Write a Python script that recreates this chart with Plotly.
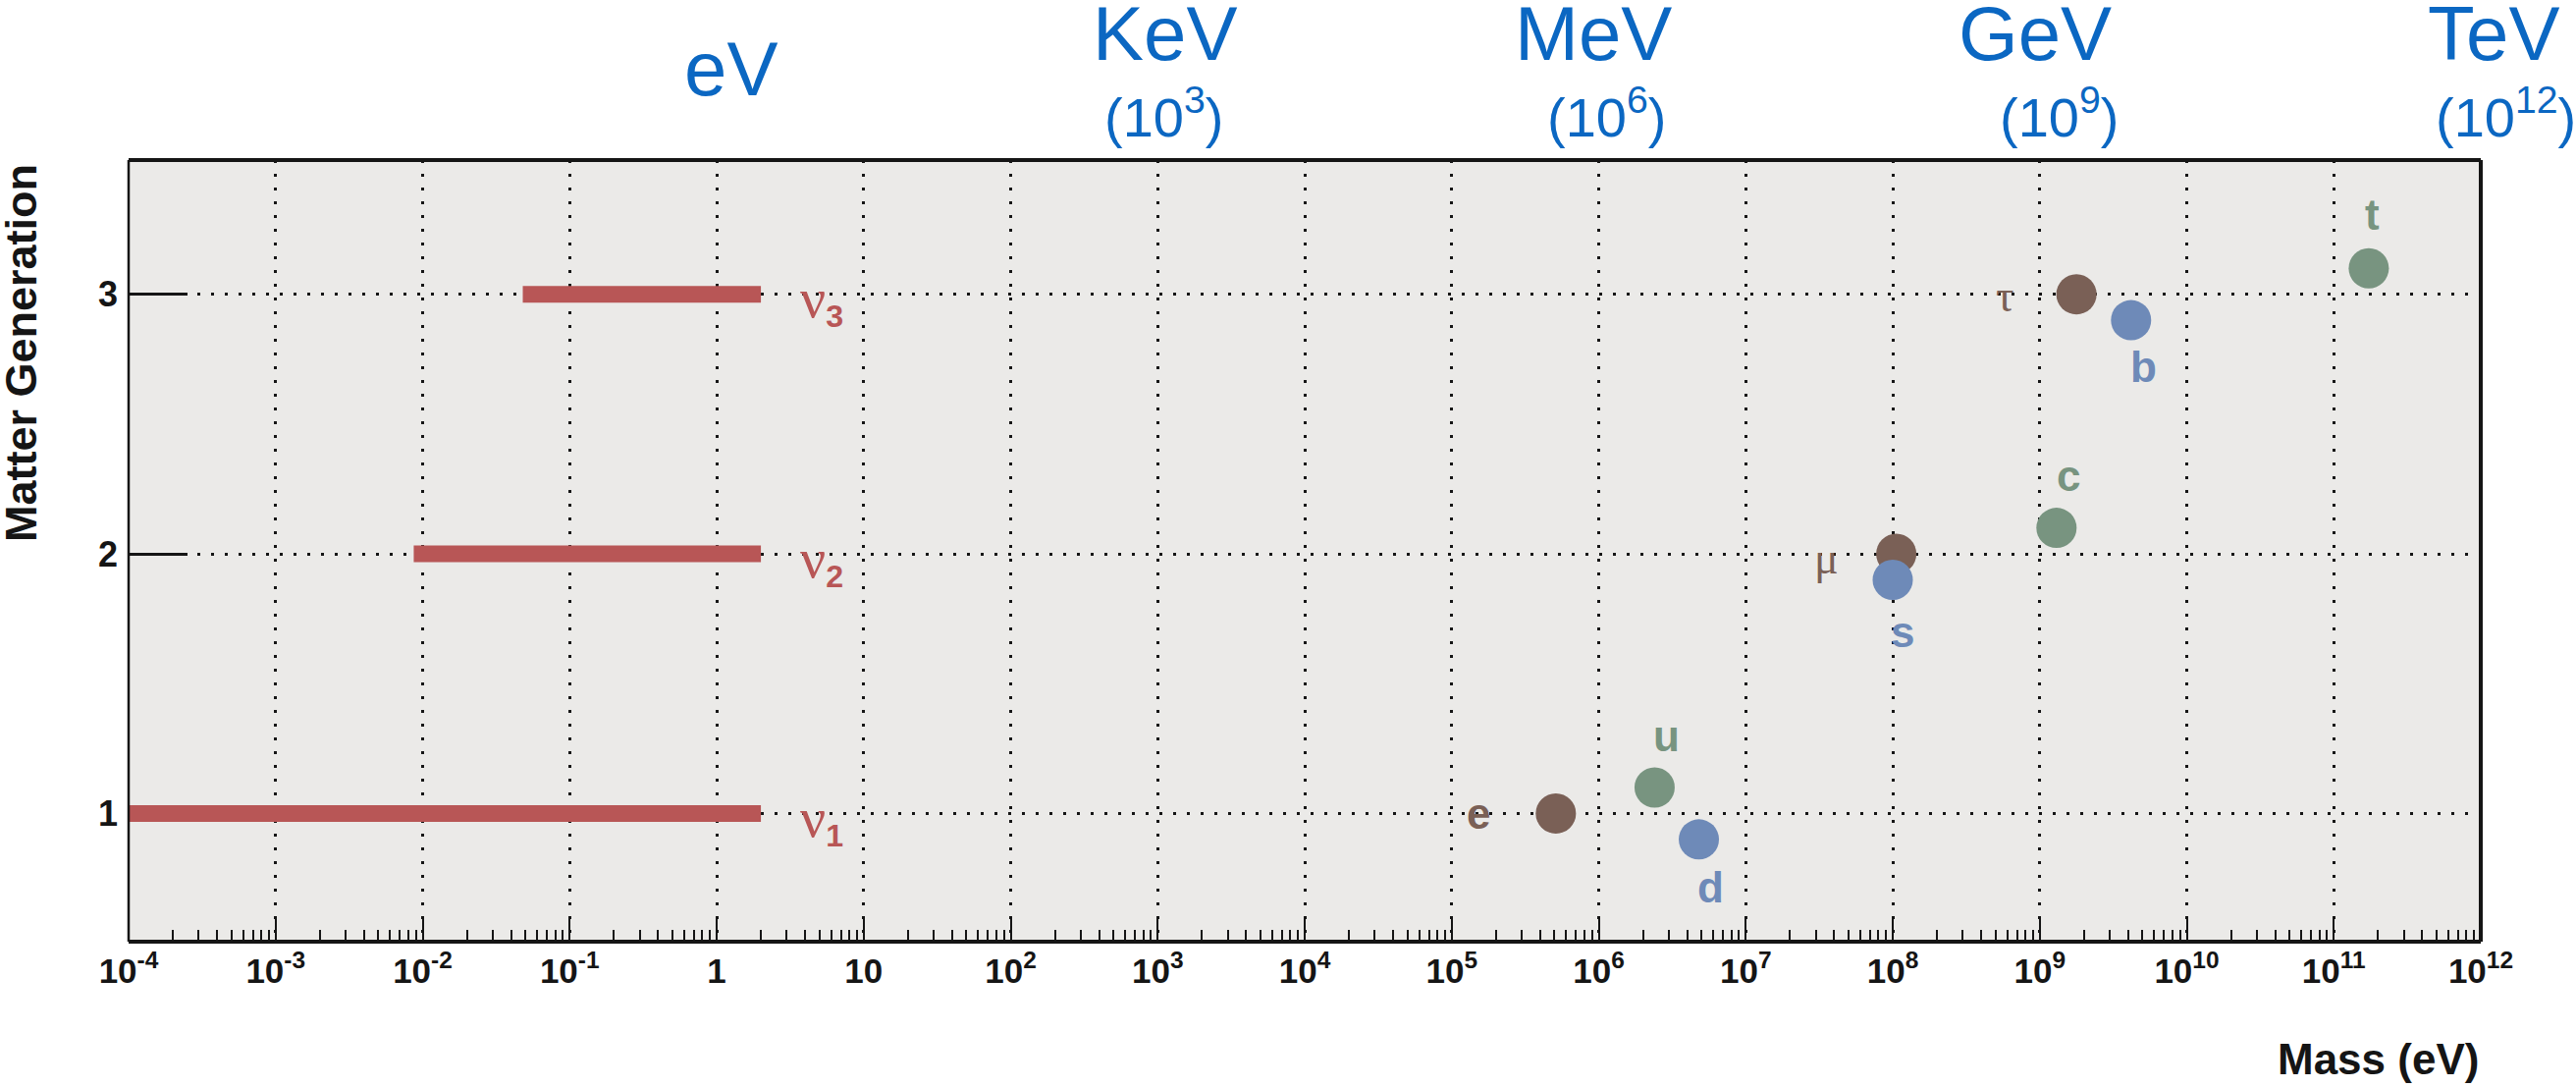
import numpy as np
import plotly.graph_objects as go

# ---- data ----------------------------------------------------------------
# mass axis decades (eV) and their labels
decade_exps = list(range(-4, 13))
decade_labels = ["10<sup>-4</sup>", "10<sup>-3</sup>", "10<sup>-2</sup>", "10<sup>-1</sup>",
                 "1", "10", "10<sup>2</sup>", "10<sup>3</sup>", "10<sup>4</sup>",
                 "10<sup>5</sup>", "10<sup>6</sup>", "10<sup>7</sup>", "10<sup>8</sup>",
                 "10<sup>9</sup>", "10<sup>10</sup>", "10<sup>11</sup>", "10<sup>12</sup>"]

generations = [1, 2, 3]
generation_labels = ["1", "2", "3"]

# neutrino mass ranges (eV)
nu_names = ["1", "2", "3"]
nu_low = [1e-4, 0.0087, 0.048]
nu_high = [2.0, 2.0, 2.0]
nu_gen = [1, 2, 3]

# charged leptons (eV)
lepton_names = ["e", "μ", "τ"]
lepton_mass = [5.11e5, 1.057e8, 1.777e9]
lepton_gen = [1, 2, 3]

# up-type quarks (eV)
up_names = ["u", "c", "t"]
up_mass = [2.4e6, 1.3e9, 1.73e11]
up_gen = [1.1, 2.1, 3.1]

# down-type quarks (eV)
down_names = ["d", "s", "b"]
down_mass = [4.8e6, 1.0e8, 4.18e9]
down_gen = [0.9, 1.9, 2.9]

# energy unit scale along the top
unit_names = ["eV", "KeV", "MeV", "GeV", "TeV"]
unit_exps = [0, 3, 6, 9, 12]

# ---- styling -------------------------------------------------------------
W, H = 2624, 1107
ML, MR, MT, MB = 131, 97, 163, 148
PW, PH = W - ML - MR, H - MT - MB

NU_COLOR = "#B85656"
LEPTON_COLOR = "#7A6056"
UP_COLOR = "#789480"
DOWN_COLOR = "#6E8AB8"
UNIT_COLOR = "#0B67C2"
INK = "#151515"
SANS = "Liberation Sans, Arial, sans-serif"
SERIF = "Liberation Serif, Times New Roman, serif"


def py(px):
    """paper y for a pixel row of the page"""
    return (H - MB - px) / PH


def pxx(px):
    """paper x for a pixel column of the page"""
    return (px - ML) / PW


fig = go.Figure()

# neutrino mass bands
for lo, hi, g in zip(nu_low, nu_high, nu_gen):
    fig.add_trace(go.Scatter(
        x=[lo, hi], y=[g, g], mode="lines",
        line=dict(color=NU_COLOR, width=17),
        hoverinfo="skip", showlegend=False))

# massive fermions
for masses, gens, color in [(lepton_mass, lepton_gen, LEPTON_COLOR),
                            (up_mass, up_gen, UP_COLOR),
                            (down_mass, down_gen, DOWN_COLOR)]:
    fig.add_trace(go.Scatter(
        x=masses, y=gens, mode="markers",
        marker=dict(size=41, color=color, line=dict(width=0)),
        showlegend=False))

annotations = []

# neutrino labels
for name, hi, g in zip(nu_names, nu_high, nu_gen):
    annotations.append(dict(
        x=np.log10(hi), y=g, xref="x", yref="y",
        xanchor="left", yanchor="middle", xshift=38, yshift=-6,
        text=f'<span style="font-family:{SERIF};font-size:58px">ν</span>'
             f'<sub><b>{name}</b></sub>',
        showarrow=False, font=dict(family=SANS, size=46, color=NU_COLOR)))

# particle labels: (dx, dy) pixel offsets from each marker
lepton_off = [(-79, 0), (-71, -4), (-73, -2)]
up_off = [(12, 52), (12, 53), (4, 55)]
down_off = [(12, -49), (10, -53), (13, -47)]

for names, masses, gens, offs, color in [
        (lepton_names, lepton_mass, lepton_gen, lepton_off, LEPTON_COLOR),
        (up_names, up_mass, up_gen, up_off, UP_COLOR),
        (down_names, down_mass, down_gen, down_off, DOWN_COLOR)]:
    for n, m, g, (dx, dy) in zip(names, masses, gens, offs):
        greek = n in ("μ", "τ")
        annotations.append(dict(
            x=np.log10(m), y=g, xref="x", yref="y",
            xanchor="center", yanchor="middle", xshift=dx, yshift=dy,
            text=n if greek else f"<b>{n}</b>", showarrow=False,
            font=dict(family=SERIF if greek else SANS,
                      size=46 if greek else 44, color=color)))

# energy units along the top (horizontal nudges in pixels)
unit_shift = [14, 7, -6, -5, 13]
power_shift = [0, 6, 8, 20, 25]
for name, e, us, ps in zip(unit_names, unit_exps, unit_shift, power_shift):
    has_power = e != 0
    annotations.append(dict(
        x=e, y=py(34) if has_power else py(70), xref="x", yref="paper",
        xanchor="center", yanchor="middle", xshift=us,
        text=name, showarrow=False,
        font=dict(family=SANS, size=78, color=UNIT_COLOR)))
    if has_power:
        annotations.append(dict(
            x=e, y=py(116), xref="x", yref="paper",
            xanchor="center", yanchor="middle", xshift=ps,
            text=f"(10<sup>{e}</sup>)", showarrow=False,
            font=dict(family=SANS, size=56, color=UNIT_COLOR)))

# axis titles
annotations.append(dict(
    x=pxx(21), y=py(360), xref="paper", yref="paper",
    xanchor="center", yanchor="middle", textangle=-90,
    text="<b>Matter Generation</b>", showarrow=False,
    font=dict(family=SANS, size=45, color=INK)))
annotations.append(dict(
    x=1.0, y=py(1078), xref="paper", yref="paper",
    xanchor="right", yanchor="middle",
    text="<b>Mass (eV)</b>", showarrow=False,
    font=dict(family=SANS, size=44, color=INK)))

# frame around the plotting area
frame = [
    dict(type="line", xref="paper", yref="paper", x0=0, x1=1, y0=1, y1=1,
         line=dict(color=INK, width=4)),
    dict(type="line", xref="paper", yref="paper", x0=0, x1=1, y0=0, y1=0,
         line=dict(color=INK, width=4)),
    dict(type="line", xref="paper", yref="paper", x0=1, x1=1, y0=0, y1=1,
         line=dict(color=INK, width=4)),
    dict(type="line", xref="paper", yref="paper", x0=0, x1=0, y0=0, y1=1,
         line=dict(color=INK, width=2.5)),
]

minor_vals = [k * 10.0 ** e for e in decade_exps[:-1] for k in range(2, 10)]

fig.update_layout(
    width=W, height=H,
    margin=dict(l=ML, r=MR, t=MT, b=MB, pad=0),
    paper_bgcolor="white",
    plot_bgcolor="#EBEAE8",
    annotations=annotations,
    shapes=frame,
    showlegend=False,
    xaxis=dict(
        type="log", range=[-4, 12],
        tickmode="array",
        tickvals=[10.0 ** e for e in decade_exps],
        ticktext=decade_labels,
        ticks="inside", ticklen=25, tickwidth=2, tickcolor=INK,
        tickfont=dict(family=SANS, size=35, color=INK, weight="bold"),
        ticklabelstandoff=6,
        showgrid=True, gridcolor=INK, gridwidth=3, griddash="3px,11px",
        minor=dict(tickmode="array", tickvals=minor_vals, ticks="inside",
                   ticklen=12, tickwidth=2, tickcolor=INK, showgrid=False),
        showline=False, zeroline=False,
    ),
    yaxis=dict(
        range=[0.506, 3.517],
        tickmode="array", tickvals=generations, ticktext=generation_labels,
        ticks="inside", ticklen=60, tickwidth=3, tickcolor=INK,
        tickfont=dict(family=SANS, size=36, color=INK, weight="bold"),
        ticklabelstandoff=10,
        showgrid=True, gridcolor=INK, gridwidth=3, griddash="3px,11px",
        showline=False, zeroline=False, layer="below traces",
    ),
)

fig.write_html("out.html")
